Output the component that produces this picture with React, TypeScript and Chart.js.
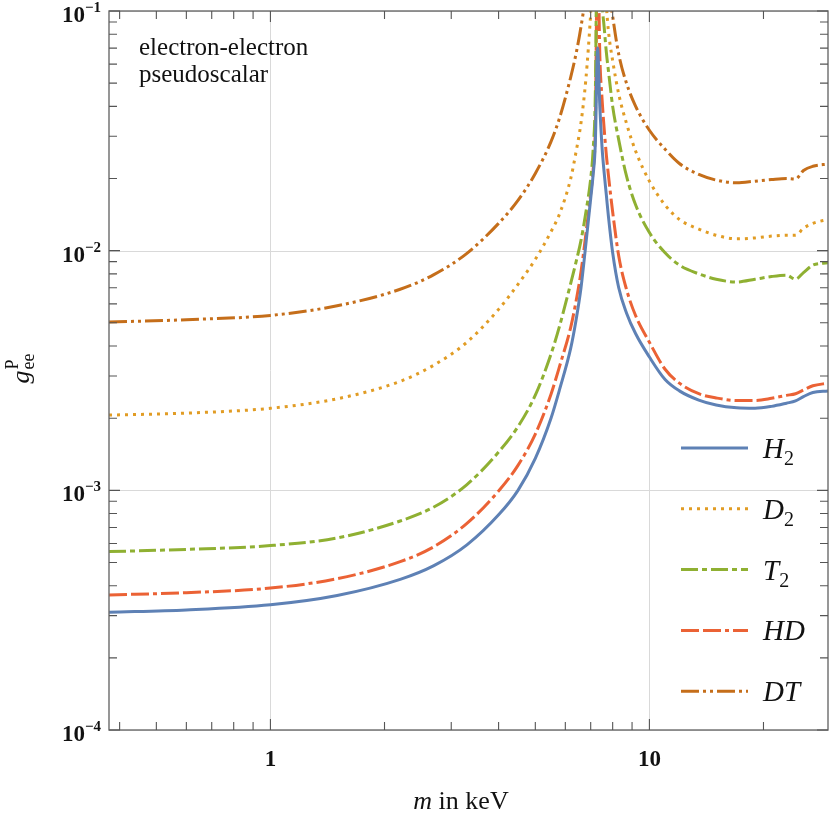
import { useEffect, useRef } from "react";
import { Chart, registerables } from "chart.js";

Chart.register(...registerables);

// m in keV
const massKeV = [
  0.375, 0.6, 1, 1.5, 2.2, 2.7, 3.3, 4, 4.5, 5, 5.5, 5.8, 6.2, 6.4, 6.6, 6.8, 7.0, 7.1, 7.2, 7.3, 7.4,
  7.5, 7.6, 7.7, 7.8, 8.0, 8.3, 8.7, 9.2, 10, 11, 12, 13.5, 15, 17, 19, 21, 23, 24.3, 25.5, 27, 29.6,
];

const gH2 = [
  3.1e-4, 3.17e-4, 3.33e-4, 3.64e-4, 4.25e-4, 4.85e-4, 5.92e-4, 7.9e-4, 1.0e-3, 1.36e-3,
  2.0e-3, 2.65e-3, 3.92e-3, 5.1e-3, 7.0e-3, 1.07e-2, 1.65e-2, 2.05e-2, 2.8e-2, 7.0e-2,
  4.0e-2, 2.7e-2, 2.1e-2, 1.7e-2, 1.38e-2, 9.8e-3, 7.0e-3, 5.5e-3, 4.5e-3, 3.6e-3,
  2.9e-3, 2.6e-3, 2.38e-3, 2.27e-3, 2.21e-3, 2.2e-3, 2.24e-3, 2.31e-3, 2.36e-3, 2.46e-3,
  2.56e-3, 2.6e-3,
];
const gD2 = [
  2.06e-3, 2.1e-3, 2.2e-3, 2.41e-3, 2.85e-3, 3.33e-3, 4.15e-3, 5.69e-3, 7.24e-3, 9.2e-3,
  1.2e-2, 1.43e-2, 2.0e-2, 2.57e-2, 3.42e-2, 5.22e-2, 9.8e-2, 0.15, 0.3, 1.0,
  0.5, 0.25, 0.15, 0.105, 0.082, 0.062, 0.045, 0.034, 0.026, 0.0195,
  0.0155, 0.0135, 0.0123, 0.0116, 0.0112, 0.0113, 0.0115, 0.0116, 0.0116, 0.0124,
  0.013, 0.0135,
];
const gT2 = [
  5.55e-4, 5.67e-4, 5.88e-4, 6.33e-4, 7.45e-4, 8.52e-4, 1.057e-3, 1.444e-3, 1.844e-3, 2.495e-3,
  3.7e-3, 4.88e-3, 7.31e-3, 8.93e-3, 1.104e-2, 1.45e-2, 2.0e-2, 2.6e-2, 4.5e-2, 0.3,
  0.2, 0.11, 0.085, 0.067, 0.056, 0.04, 0.029, 0.0205, 0.0155, 0.0119,
  0.0098, 0.0087, 0.008, 0.0076, 0.0074, 0.0076, 0.0078, 0.0079, 0.0076, 0.0081,
  0.0087, 0.0089,
];
const gHD = [
  3.66e-4, 3.74e-4, 3.91e-4, 4.28e-4, 5.04e-4, 5.82e-4, 7.28e-4, 9.94e-4, 1.271e-3, 1.716e-3,
  2.52e-3, 3.31e-3, 4.79e-3, 6.12e-3, 8.16e-3, 1.178e-2, 1.73e-2, 2.15e-2, 3.3e-2, 0.2,
  0.065, 0.043, 0.032, 0.025, 0.0205, 0.0145, 9.5e-3, 6.9e-3, 5.35e-3, 4.15e-3,
  3.2e-3, 2.8e-3, 2.53e-3, 2.43e-3, 2.37e-3, 2.37e-3, 2.42e-3, 2.49e-3, 2.53e-3, 2.62e-3,
  2.73e-3, 2.8e-3,
];
const gDT = [
  5.04e-3, 5.15e-3, 5.37e-3, 5.89e-3, 6.9e-3, 7.94e-3, 9.75e-3, 1.3e-2, 1.62e-2, 2.1e-2,
  2.85e-2, 3.6e-2, 5.3e-2, 6.6e-2, 8.6e-2, 0.12, 0.2, 0.3, 0.6, 1.5,
  1.0, 0.6, 0.35, 0.22, 0.13, 0.095, 0.066, 0.05, 0.04, 0.0318,
  0.0265, 0.0231, 0.0208, 0.0197, 0.0192, 0.0195, 0.0198, 0.02, 0.0199, 0.0216,
  0.0225, 0.023,
];

const seriesNames = ["H", "D", "T", "HD", "DT"];
const seriesSubs = ["2", "2", "2", "", ""];
const seriesValues = [gH2, gD2, gT2, gHD, gDT];
const seriesColors = ["#5E81B5", "#E19C24", "#8FB032", "#EB6235", "#C56E1A"];
const seriesDashes: number[][] = [[], [3, 5], [17, 4, 5, 4], [18, 4, 18, 4, 4, 4], [18, 4, 3, 4, 3, 4]];

const xMajorTicks = [1, 10];
const xMinorTicks = [0.4, 0.5, 0.6, 0.7, 0.8, 0.9, 2, 3, 4, 5, 6, 7, 8, 9, 20];
const yMajorTicks = [1e-4, 1e-3, 1e-2, 1e-1];
const yMinorMultipliers = [2, 3, 4, 5, 6, 7, 8, 9];

const SERIF = "'Liberation Serif', 'DejaVu Serif', serif";

type Run = { t: string; font: string; dy?: number };

function drawRuns(ctx: CanvasRenderingContext2D, runs: Run[], x: number, y: number, align: "left" | "right" | "center") {
  let total = 0;
  for (const r of runs) {
    ctx.font = r.font;
    total += ctx.measureText(r.t).width;
  }
  let cx = align === "left" ? x : align === "right" ? x - total : x - total / 2;
  ctx.textAlign = "left";
  for (const r of runs) {
    ctx.font = r.font;
    ctx.fillText(r.t, cx, y + (r.dy || 0));
    cx += ctx.measureText(r.t).width;
  }
}

const decorPlugin = {
  id: "decor",
  beforeDatasetsDraw(chart: any) {
    const { ctx, chartArea: a, scales } = chart;
    const xs = scales.x;
    const ys = scales.y;
    ctx.save();
    ctx.strokeStyle = "#d9d9d9";
    ctx.lineWidth = 1;
    for (const v of xMajorTicks) {
      const px = Math.round(xs.getPixelForValue(v)) + 0.5;
      ctx.beginPath();
      ctx.moveTo(px, a.top);
      ctx.lineTo(px, a.bottom);
      ctx.stroke();
    }
    for (const v of yMajorTicks) {
      const py = Math.round(ys.getPixelForValue(v)) + 0.5;
      ctx.beginPath();
      ctx.moveTo(a.left, py);
      ctx.lineTo(a.right, py);
      ctx.stroke();
    }
    ctx.restore();
  },
  afterDatasetsDraw(chart: any) {
    const { ctx, chartArea: a, scales } = chart;
    const xs = scales.x;
    const ys = scales.y;
    ctx.save();

    // frame
    ctx.strokeStyle = "#6b6b6b";
    ctx.lineWidth = 1.4;
    ctx.strokeRect(a.left, a.top, a.right - a.left, a.bottom - a.top);

    // ticks (inward, on all four sides)
    ctx.strokeStyle = "#555";
    ctx.lineWidth = 1.1;
    const xTick = (v: number, len: number) => {
      const px = xs.getPixelForValue(v);
      ctx.beginPath();
      ctx.moveTo(px, a.bottom);
      ctx.lineTo(px, a.bottom - len);
      ctx.moveTo(px, a.top);
      ctx.lineTo(px, a.top + len);
      ctx.stroke();
    };
    const yTick = (v: number, len: number) => {
      const py = ys.getPixelForValue(v);
      ctx.beginPath();
      ctx.moveTo(a.left, py);
      ctx.lineTo(a.left + len, py);
      ctx.moveTo(a.right, py);
      ctx.lineTo(a.right - len, py);
      ctx.stroke();
    };
    xMajorTicks.forEach((v) => xTick(v, 11));
    xMinorTicks.forEach((v) => xTick(v, 8));
    yMajorTicks.forEach((v, i) => {
      yTick(v, 11);
      if (i < yMajorTicks.length - 1) yMinorMultipliers.forEach((m) => yTick(v * m, 8));
    });

    // tick labels
    ctx.fillStyle = "#111";
    ctx.textBaseline = "alphabetic";
    for (const v of xMajorTicks) {
      drawRuns(ctx, [{ t: String(v), font: `bold 23px ${SERIF}` }], xs.getPixelForValue(v), a.bottom + 36, "center");
    }
    for (const v of yMajorTicks) {
      const e = Math.round(Math.log10(v));
      const py = ys.getPixelForValue(v);
      drawRuns(
        ctx,
        [
          { t: "10", font: `bold 23px ${SERIF}` },
          { t: "\u2212" + Math.abs(e), font: `bold 15px ${SERIF}`, dy: -10 },
        ],
        a.left - 8,
        py + 11,
        "right"
      );
    }

    // axis titles
    drawRuns(
      ctx,
      [
        { t: "m", font: `italic 26px ${SERIF}` },
        { t: " in keV", font: `26px ${SERIF}` },
      ],
      461,
      809,
      "center"
    );
    ctx.save();
    ctx.translate(29, 369);
    ctx.rotate(-Math.PI / 2);
    ctx.font = `italic 26px ${SERIF}`;
    const gw = ctx.measureText("g").width;
    ctx.font = `18px ${SERIF}`;
    const ew = ctx.measureText("ee").width;
    const x0 = -(gw + ew) / 2;
    ctx.font = `italic 26px ${SERIF}`;
    ctx.fillText("g", x0, 0);
    ctx.font = `18px ${SERIF}`;
    ctx.fillText("ee", x0 + gw + 1, 5);
    ctx.fillText("P", x0 + gw + 1, -11);
    ctx.restore();

    // annotation
    ctx.font = `25px ${SERIF}`;
    ctx.textAlign = "left";
    ctx.fillText("electron-electron", a.left + 30, a.top + 44);
    ctx.fillText("pseudoscalar", a.left + 30, a.top + 71);

    // legend
    const lx0 = a.left + 572;
    const lx1 = a.left + 639;
    const tx = a.left + 654;
    seriesNames.forEach((name, i) => {
      const ly = a.top + 437 + i * 60.8;
      ctx.strokeStyle = seriesColors[i];
      ctx.lineWidth = 3;
      ctx.setLineDash(seriesDashes[i]);
      ctx.beginPath();
      ctx.moveTo(lx0, ly);
      ctx.lineTo(lx1, ly);
      ctx.stroke();
      ctx.setLineDash([]);
      ctx.fillStyle = "#111";
      const runs: Run[] = [{ t: name, font: `italic 29px ${SERIF}` }];
      if (seriesSubs[i]) runs.push({ t: seriesSubs[i], font: `20px ${SERIF}`, dy: 7 });
      drawRuns(ctx, runs, tx, ly + 10, "left");
    });

    ctx.restore();
  },
};

export default function App() {
  const canvasRef = useRef<HTMLCanvasElement>(null);

  useEffect(() => {
    if (!canvasRef.current) return;
    const chart = new Chart(canvasRef.current, {
      type: "line",
      data: {
        datasets: seriesValues.map((vals, i) => ({
          label: seriesNames[i] + seriesSubs[i],
          data: massKeV.map((m, j) => ({ x: m, y: vals[j] })),
          borderColor: seriesColors[i],
          borderWidth: 3,
          borderDash: seriesDashes[i],
          pointRadius: 0,
          fill: false,
          cubicInterpolationMode: "monotone" as const,
          clip: 0,
        })),
      },
      options: {
        animation: false,
        responsive: false,
        devicePixelRatio: 1,
        layout: { padding: { top: 11, right: 3, left: 0, bottom: 0 } },
        plugins: { legend: { display: false }, tooltip: { enabled: false } },
        scales: {
          x: {
            type: "logarithmic",
            min: 0.375,
            max: 29.6,
            ticks: { display: false },
            grid: { display: false },
            border: { display: false },
            afterFit: (s: any) => {
              s.height = 84;
            },
          },
          y: {
            type: "logarithmic",
            min: 1e-4,
            max: 1e-1,
            ticks: { display: false },
            grid: { display: false },
            border: { display: false },
            afterFit: (s: any) => {
              s.width = 109;
            },
          },
        },
      },
      plugins: [decorPlugin],
    });
    return () => chart.destroy();
  }, []);

  return (
    <div style={{ position: "fixed", left: 0, top: 0, width: 831, height: 814, background: "#fff" }}>
      <canvas ref={canvasRef} width={831} height={814} style={{ display: "block" }} />
    </div>
  );
}
